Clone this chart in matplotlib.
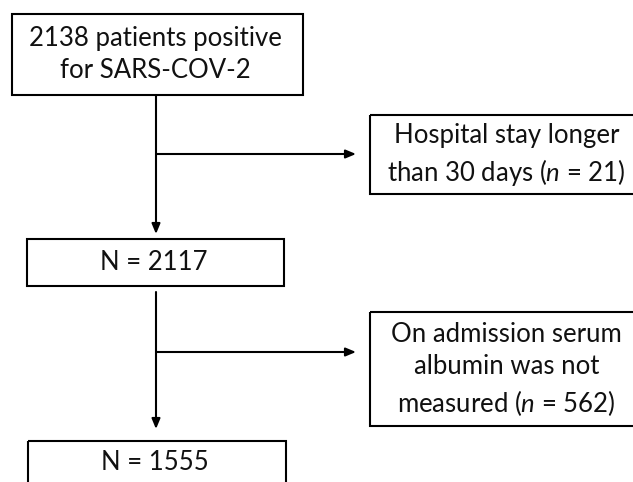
import matplotlib
matplotlib.use("Agg")
import matplotlib.pyplot as plt
from matplotlib.patches import Rectangle

plt.rcParams['font.family'] = ['Lato', 'DejaVu Sans']
plt.rcParams['mathtext.fontset'] = 'custom'
plt.rcParams['mathtext.rm'] = 'Lato'
plt.rcParams['mathtext.it'] = 'Lato:italic'

# data
stage_counts = [2138, 2117, 1555]
excluded_counts = [21, 562]
stage_labels = ["{} patients positive\nfor SARS-COV-2".format(stage_counts[0]),
                "N = {}".format(stage_counts[1]),
                "N = {}".format(stage_counts[2])]
excluded_labels = ["Hospital stay longer\nthan 30 days ($n$ = {})".format(excluded_counts[0]),
                   "On admission serum\nalbumin was not\nmeasured ($n$ = {})".format(excluded_counts[1])]

W, H = 633, 482
fig = plt.figure(figsize=(W / 100, H / 100), dpi=100)
ax = fig.add_axes([0, 0, 1, 1])
ax.set_xlim(0, W)
ax.set_ylim(H, 0)
ax.axis('off')

lw = 1.5
fs = 18.5
ls = 1.38

# main boxes (x0, y0, x1, y1)
main_boxes = [(12, 14, 303, 95), (27, 239, 284, 286), (28, 441, 286, 500)]
side_boxes = [(370, 115, 645, 194), (370, 312, 645, 426)]

for (x0, y0, x1, y1), lab in zip(main_boxes, stage_labels):
    ax.add_patch(Rectangle((x0, y0), x1 - x0, y1 - y0, fill=False, ec='black', lw=lw))
    yc = (y0 + y1) / 2 if y1 <= H else y0 + 22
    ax.text((x0 + x1) / 2 - 2, yc, lab, ha='center', va='center', fontsize=fs,
            linespacing=ls, color='#111111')

for (x0, y0, x1, y1), lab in zip(side_boxes, excluded_labels):
    ax.add_patch(Rectangle((x0, y0), x1 - x0, y1 - y0, fill=False, ec='black', lw=lw))
    ax.text((x0 + x1) / 2 - 1, (y0 + y1) / 2 + 1, lab, ha='center', va='center', fontsize=fs,
            linespacing=ls, color='#111111')

xv = 156
arrow_kw = dict(arrowstyle='-|>,head_length=0.6,head_width=0.25', color='black', lw=lw,
                shrinkA=0, shrinkB=0)
# vertical arrows
ax.annotate('', xy=(xv, 234), xytext=(xv, 95), arrowprops=arrow_kw)
ax.annotate('', xy=(xv, 429), xytext=(xv, 292), arrowprops=arrow_kw)
# branch arrows
ax.annotate('', xy=(356, 154), xytext=(xv, 154), arrowprops=arrow_kw)
ax.annotate('', xy=(356, 352), xytext=(xv, 352), arrowprops=arrow_kw)

fig.savefig('out.png', dpi=100, facecolor='white')
